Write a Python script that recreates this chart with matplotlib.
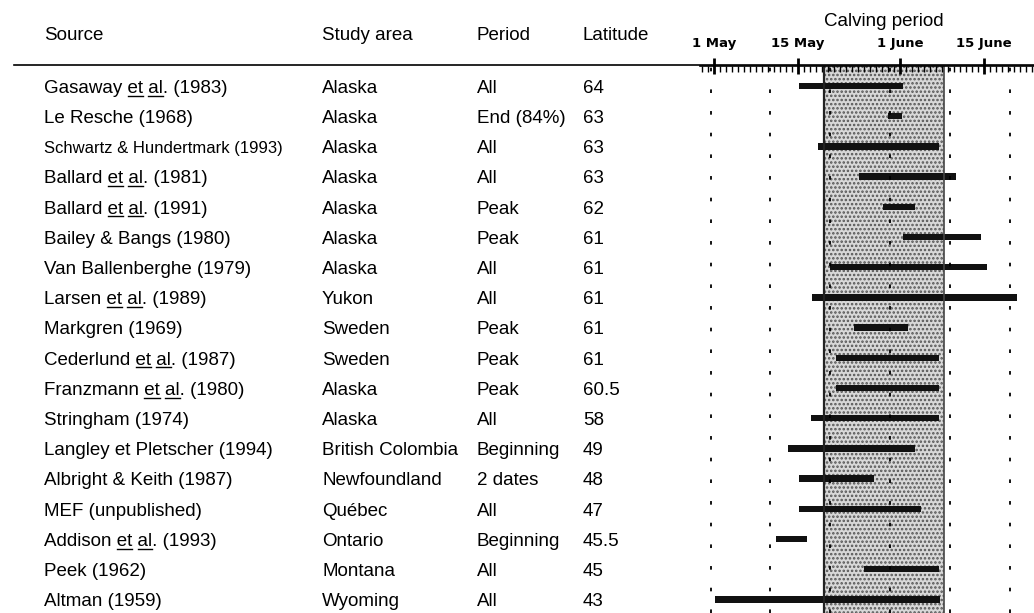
import matplotlib
matplotlib.use('Agg')
import matplotlib.pyplot as plt
from matplotlib.font_manager import FontProperties
from matplotlib.lines import Line2D
from matplotlib.transforms import blended_transform_factory, offset_copy

# table columns
sources = ['Gasaway et al. (1983)', 'Le Resche (1968)', 'Schwartz & Hundertmark (1993)',
           'Ballard et al. (1981)', 'Ballard et al. (1991)', 'Bailey & Bangs (1980)',
           'Van Ballenberghe (1979)', 'Larsen et al. (1989)', 'Markgren (1969)',
           'Cederlund et al. (1987)', 'Franzmann et al. (1980)', 'Stringham (1974)',
           'Langley et Pletscher (1994)', 'Albright & Keith (1987)', 'MEF (unpublished)',
           'Addison et al. (1993)', 'Peek (1962)', 'Altman (1959)']
areas = ['Alaska', 'Alaska', 'Alaska', 'Alaska', 'Alaska', 'Alaska', 'Alaska', 'Yukon',
         'Sweden', 'Sweden', 'Alaska', 'Alaska', 'British Colombia', 'Newfoundland',
         'Québec', 'Ontario', 'Montana', 'Wyoming']
periods = ['All', 'End (84%)', 'All', 'All', 'Peak', 'Peak', 'All', 'All', 'Peak', 'Peak',
           'Peak', 'All', 'Beginning', '2 dates', 'All', 'Beginning', 'All', 'All']
latitudes = ['64', '63', '63', '63', '62', '61', '61', '61', '61', '61', '60.5', '58',
             '49', '48', '47', '45.5', '45', '43']

# calving period, days after 1 May
start_day = [14.2, 29.0, 17.3, 24.2, 28.2, 31.5, 19.3, 16.3, 23.3, 20.3, 20.3, 16.2,
             12.3, 14.2, 14.2, 10.3, 25.0, 0.2]
end_day = [31.5, 31.3, 37.5, 40.3, 33.5, 44.5, 45.5, 50.5, 32.3, 37.5, 37.5, 37.5,
           33.5, 26.7, 34.5, 15.5, 37.5, 37.7]

date_ticks = [0, 14, 31, 45]
date_labels = ['1 May', '15 May', '1 June', '15 June']
peak_span = (18.3, 38.3)
ref_days = [-0.5, 9.4, 19.4, 29.3, 39.3, 49.3]

W, H = 1034, 613
fig = plt.figure(figsize=(W / 100, H / 100), dpi=100)
plt.rcParams['font.family'] = ['Liberation Sans', 'DejaVu Sans']
plt.rcParams['hatch.linewidth'] = 1.2

ax = fig.add_axes([700 / W, 0, 1 - 700 / W, 1 - 66 / H])
n = len(sources)
row_px = 30.2
ax.set_xlim(-2.3, 53.3)
ax.set_ylim((H - 86) / row_px, -20 / row_px)

# shaded peak period
ax.axvspan(*peak_span, facecolor='#d8d8d8', edgecolor='#555555', hatch='....', lw=0)
ax.axvline(peak_span[0], color='#222222', lw=1.6)
ax.axvline(peak_span[1], color='#444444', lw=1.2)

for d in ref_days:
    ax.axvline(d, color='black', lw=1.3, linestyle=(0, (2, 10)))

rows = list(range(n))
ax.barh(rows, [e - s for s, e in zip(start_day, end_day)], left=start_day,
        height=0.21, color='#111111')

for sp in ['left', 'right', 'bottom']:
    ax.spines[sp].set_visible(False)
ax.spines['top'].set_linewidth(1.2)
ax.set_yticks([])
ax.xaxis.tick_top()
ax.set_xticks(date_ticks)
ax.set_xticklabels(date_labels, fontfamily=['Liberation Sans Narrow', 'DejaVu Sans'],
                   fontweight='bold', fontsize=9.5)
ax.set_xticks(range(-2, 54), minor=True)
ax.tick_params(axis='x', which='major', direction='inout', length=11, width=2, pad=6)
ax.tick_params(axis='x', which='minor', direction='in', length=4, width=1)

fig.text(884 / W, 1 - 22 / H, 'Calving period', ha='center', va='center', fontsize=13.5)

# header
fs = 13.5
for x, lab in [(44, 'Source'), (322, 'Study area'), (477, 'Period'), (583, 'Latitude')]:
    fig.text(x / W, 1 - 35 / H, lab, ha='left', va='center', fontsize=fs)
fig.add_artist(Line2D([14 / W, 1], [1 - 65 / H, 1 - 65 / H], color='black', lw=1.2))

# table rows
tr = blended_transform_factory(fig.transFigure, ax.transData)
base = offset_copy(tr, fig=fig, y=-0.36 * fs, units='points')
renderer = fig.canvas.get_renderer()
fp = FontProperties(family='Liberation Sans', size=fs)


def width(s, prop):
    return renderer.get_text_width_height_descent(s, prop, ismath=False)[0] / W


for i in range(n):
    sfs = 12 if len(sources[i]) > 28 else fs
    fig.text(44 / W, i, sources[i], transform=base, va='baseline', fontsize=sfs)
    fig.text(322 / W, i, areas[i], transform=base, va='baseline', fontsize=fs)
    fig.text(477 / W, i, periods[i], transform=base, va='baseline', fontsize=fs)
    fig.text(583 / W, i, latitudes[i], transform=base, va='baseline', fontsize=fs)
    if ' et al.' in sources[i]:
        pre = sources[i].split(' et al.')[0] + ' '
        ul = offset_copy(tr, fig=fig, y=-0.36 * fs - 2, units='points')
        for part_end in ['et', 'et al']:
            x1 = width(pre + part_end, fp)
            x0 = x1 - width(part_end.split(' ')[-1], fp)
            fig.add_artist(Line2D([44 / W + x0, 44 / W + x1], [i, i], transform=ul,
                                  color='black', lw=1.0))

fig.savefig('out.png', dpi=100)
